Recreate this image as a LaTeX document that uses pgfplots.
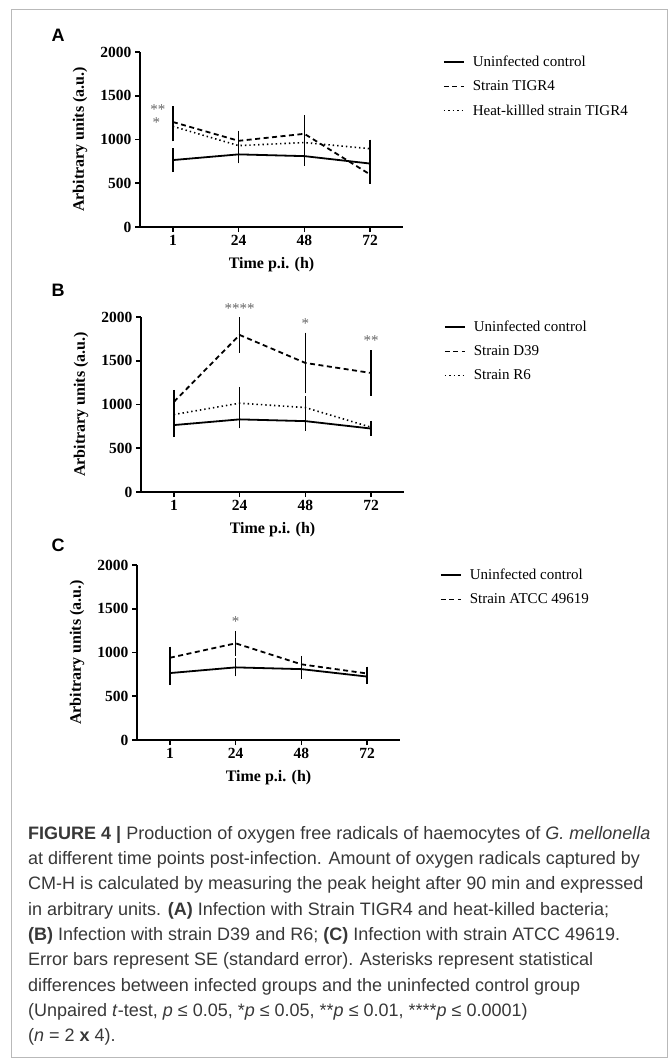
\documentclass[border=0pt]{standalone}
\usepackage{pgfplots}
\pgfplotsset{compat=1.18}
\usepackage{fontspec}
\setmainfont{Liberation Serif}
\setsansfont{Liberation Sans}

\pgfplotsset{
  panel/.style={
    scale only axis, width=263pt, height=175pt,
    xmin=-0.5, xmax=3.5, ymin=0, ymax=2000,
    axis lines*=left,
    axis line style={line width=2pt},
    xtick={0,1,2,3}, xticklabels={1,24,48,72},
    ytick={0,500,1000,1500,2000},
    tick align=outside, major tick length=5pt,
    tick style={black, line width=1.6pt},
    /pgf/number format/assume math mode=true,
    /pgf/number format/1000 sep={},
    ticklabel style={font=\fontsize{15.5}{16}\selectfont\bfseries},
    label style={font=\fontsize{16}{18}\selectfont\bfseries},
    xlabel={Time p.i. (h)}, ylabel={Arbitrary units (a.u.)},
    x label style={at={(axis description cs:0.5,-0.217)}, anchor=center},
    y label style={at={(axis description cs:-0.228,0.5)}, anchor=center},
    clip=false,
    legend style={draw=none, fill=none, at={(axis description cs:1.14,1.0)},
      anchor=north west, font=\fontsize{15}{17}\selectfont, row sep=8.5pt},
    legend cell align=left,
    legend image code/.code={\draw[#1] (0pt,0pt) -- (20pt,0pt); \path (26pt,0pt);},
  },
  ebar/.style={mark=none,
    /pgfplots/error bars/y dir=both,
    /pgfplots/error bars/y explicit,
    /pgfplots/error bars/error bar style={solid, black, line width=1.3pt},
    /pgfplots/error bars/error mark options={solid, black, mark size=3.3pt, line width=1.3pt}},
  ctrl/.style={black, solid, line width=1.8pt, ebar},
  dsh/.style={black, line width=1.8pt, dash pattern=on 5pt off 3.5pt, ebar},
  dtt/.style={black, line width=1.6pt, dash pattern=on 1.4pt off 3pt, ebar},
}
\tikzset{star/.style={font=\fontsize{15}{15}\selectfont, text=black!60}}

\begin{document}
\begin{tikzpicture}
\useasboundingbox (0pt,0pt) rectangle (670pt,-1060pt);
\draw[gray!55, line width=1pt] (11pt,-9pt) rectangle (667pt,-1057pt);

% panel A
\node[font=\sffamily\bfseries\fontsize{18}{18}\selectfont] at (58pt,-35pt) {A};
\begin{axis}[panel, at={(140pt,-227pt)}, anchor=south west]
\addplot[ctrl] coordinates {(0,765) +- (0,100) (1,830) +- (0,65) (2,810) +- (0,75) (3,725) +- (0,50)};
\addlegendentry{Uninfected control}
\addplot[dsh] coordinates {(0,1200) +- (0,145) (1,985) +- (0,80) (2,1065) +- (0,175) (3,600) +- (0,70)};
\addlegendentry{Strain TIGR4}
\addplot[dtt] coordinates {(0,1150) +- (0,135) (1,930) +- (0,55) (2,965) +- (0,80) (3,895) +- (0,65)};
\addlegendentry{Heat-killled strain TIGR4}
\node[star] at (axis cs:-0.23,1345) {**};
\node[star] at (axis cs:-0.25,1195) {*};
\end{axis}

% panel B
\node[font=\sffamily\bfseries\fontsize{18}{18}\selectfont] at (58pt,-290pt) {B};
\begin{axis}[panel, at={(141pt,-492pt)}, anchor=south west]
\addplot[ctrl] coordinates {(0,765) +- (0,100) (1,830) +- (0,65) (2,810) +- (0,75) (3,725) +- (0,50)};
\addlegendentry{Uninfected control}
\addplot[dsh] coordinates {(0,1030) +- (0,100) (1,1795) +- (0,165) (2,1475) +- (0,310) (3,1360) +- (0,220)};
\addlegendentry{Strain D39}
\addplot[dtt] coordinates {(0,885) +- (0,90) (1,1015) +- (0,150) (2,965) +- (0,90) (3,740) +- (0,35)};
\addlegendentry{Strain R6}
\node[star] at (axis cs:1,2100) {****};
\node[star] at (axis cs:2,1925) {*};
\node[star] at (axis cs:3,1730) {**};
\end{axis}

% panel C
\node[font=\sffamily\bfseries\fontsize{18}{18}\selectfont] at (58pt,-545pt) {C};
\begin{axis}[panel, at={(137pt,-740pt)}, anchor=south west]
\addplot[ctrl] coordinates {(0,765) +- (0,100) (1,830) +- (0,65) (2,810) +- (0,75) (3,725) +- (0,50)};
\addlegendentry{Uninfected control}
\addplot[dsh] coordinates {(0,940) +- (0,90) (1,1105) +- (0,105) (2,865) +- (0,60) (3,760) +- (0,40)};
\addlegendentry{Strain ATCC 49619}
\node[star] at (axis cs:1,1355) {*};
\end{axis}

% caption
\node[anchor=north west, align=left, inner sep=0pt, text=black!78,
      font=\sffamily\fontsize{18}{25.3}\selectfont] at (28pt,-826pt)
{\textbf{FIGURE 4 |} Production of oxygen free radicals of haemocytes of \textit{G. mellonella}\\
at different time points post-infection. Amount of oxygen radicals captured by\\
CM-H is calculated by measuring the peak height after 90 min and expressed\\
in arbitrary units. \textbf{(A)} Infection with Strain TIGR4 and heat-killed bacteria;\\
\textbf{(B)} Infection with strain D39 and R6; \textbf{(C)} Infection with strain ATCC 49619.\\
Error bars represent SE (standard error). Asterisks represent statistical\\
differences between infected groups and the uninfected control group\\
(Unpaired \textit{t}-test, \textit{p} ≤ 0.05, *\textit{p} ≤ 0.05, **\textit{p} ≤ 0.01, ****\textit{p} ≤ 0.0001)\\
(\textit{n} = 2 \textbf{x} 4).};
\end{tikzpicture}
\end{document}
